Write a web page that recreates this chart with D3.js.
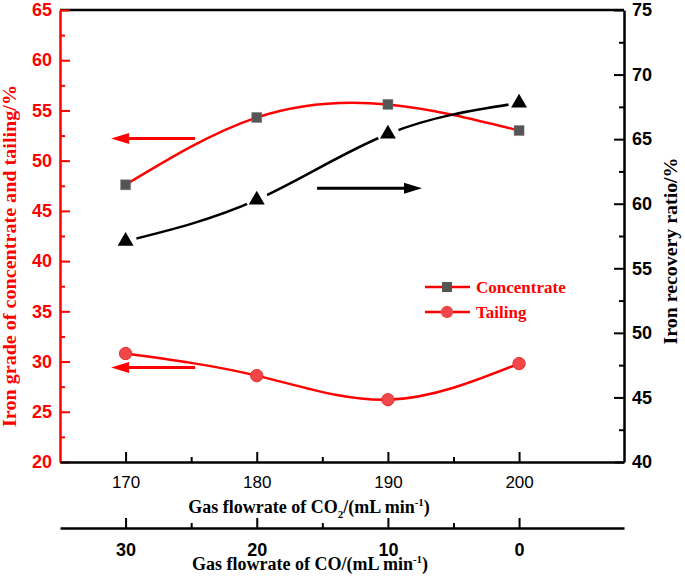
<!DOCTYPE html>
<meta charset='utf-8'>
<head>
    <title>Iron grade and recovery</title>
    <script src='https://cdn.jsdelivr.net/npm/d3@7/dist/d3.min.js'></script>
</head>

<style>
    body { margin: 0; background: #fff; }
    svg { font-family: 'Liberation Serif', 'Times New Roman', serif; }
    .axis path, .axis line { stroke-width: 2px; }
    .axis .domain { stroke-width: 2.5px; }
</style>

<svg></svg>

<script>

    // data
    var co2Flow = [170, 180, 190, 200];
    var coFlow = [30, 20, 10, 0];
    var concentrate = [47.6, 54.3, 55.6, 53.0];
    var tailing = [30.8, 28.6, 26.2, 29.8];
    var recovery = [57.1, 60.3, 65.4, 67.8];

    var leftTicks = [20, 25, 30, 35, 40, 45, 50, 55, 60, 65];
    var rightTicks = [40, 45, 50, 55, 60, 65, 70, 75];

    var vWidth = 685;
    var vHeight = 576;
    var svg = d3.select('svg').attr('width', vWidth).attr('height', vHeight);

    // scales
    var x = d3.scaleLinear().domain([165, 208]).range([60, 624]);
    var yL = d3.scaleLinear().domain([20, 65]).range([462, 10]);
    var yR = d3.scaleLinear().domain([40, 75]).range([462, 10]);

    var red = '#ff0000';

    // top border
    svg.append('line').attr('x1', 60).attr('x2', 624).attr('y1', 10).attr('y2', 10)
        .attr('stroke', '#000').attr('stroke-width', 2.5);

    // left axis (red), ticks inward
    var gL = svg.append('g').attr('class', 'axis').attr('transform', 'translate(60,0)');
    gL.call(d3.axisLeft(yL).tickValues(leftTicks).tickSize(-10).tickSizeOuter(0).tickPadding(8));
    gL.append('g').call(d3.axisLeft(yL).tickValues(d3.range(22.5, 65, 5)).tickSize(-5).tickSizeOuter(0).tickFormat(''))
        .select('.domain').remove();
    gL.selectAll('path, line').attr('stroke', red);
    gL.selectAll('text').attr('fill', red).style('font-size', '18px').style('font-weight', 'bold');

    // right axis (black), ticks inward
    var gR = svg.append('g').attr('class', 'axis').attr('transform', 'translate(624,0)');
    gR.call(d3.axisRight(yR).tickValues(rightTicks).tickSize(-10).tickSizeOuter(0).tickPadding(8));
    gR.append('g').call(d3.axisRight(yR).tickValues(d3.range(42.5, 75, 5)).tickSize(-5).tickSizeOuter(0).tickFormat(''))
        .select('.domain').remove();
    gR.selectAll('path, line').attr('stroke', '#000');
    gR.selectAll('text').attr('fill', '#000').style('font-size', '18px').style('font-weight', 'bold');

    // bottom axis CO2
    var gB = svg.append('g').attr('class', 'axis').attr('transform', 'translate(0,462)');
    gB.call(d3.axisBottom(x).tickValues(co2Flow).tickSize(-10).tickSizeOuter(0).tickPadding(14));
    gB.append('g').call(d3.axisBottom(x).tickValues([175, 185, 195]).tickSize(-5).tickSizeOuter(0).tickFormat(''))
        .select('.domain').remove();
    gB.selectAll('path, line').attr('stroke', '#000');
    gB.selectAll('text').attr('fill', '#000').style('font-size', '17px');

    // second bottom axis CO
    var gC = svg.append('g').attr('class', 'axis').attr('transform', 'translate(0,528)');
    gC.call(d3.axisBottom(x).tickValues(co2Flow).tickSize(-10).tickSizeOuter(0).tickPadding(15)
        .tickFormat(function (d, i) { return coFlow[i]; }));
    gC.append('g').call(d3.axisBottom(x).tickValues([175, 185, 195]).tickSize(-5).tickSizeOuter(0).tickFormat(''))
        .select('.domain').remove();
    gC.selectAll('path, line').attr('stroke', '#000');
    gC.selectAll('text').attr('fill', '#000').style('font-size', '18px').style('font-weight', 'bold');

    // axis titles
    var t1 = svg.append('text').attr('x', 309).attr('y', 513).attr('text-anchor', 'middle')
        .style('font-size', '18px').style('font-weight', 'bold');
    t1.append('tspan').text('Gas flowrate of CO');
    t1.append('tspan').attr('dy', 5).style('font-size', '11px').text('2');
    t1.append('tspan').attr('dy', -5).text('/(mL min');
    t1.append('tspan').attr('dy', -7).style('font-size', '11px').text('-1');
    t1.append('tspan').attr('dy', 7).text(')');

    var t2 = svg.append('text').attr('x', 310).attr('y', 570).attr('text-anchor', 'middle')
        .style('font-size', '18px').style('font-weight', 'bold');
    t2.append('tspan').text('Gas flowrate of CO/(mL min');
    t2.append('tspan').attr('dy', -7).style('font-size', '11px').text('-1');
    t2.append('tspan').attr('dy', 7).text(')');

    svg.append('text').attr('transform', 'translate(16,256) rotate(-90)').attr('text-anchor', 'middle')
        .attr('fill', red).style('font-size', '19px').style('font-weight', 'bold')
        .attr('textLength', 342).attr('lengthAdjust', 'spacingAndGlyphs')
        .text('Iron grade of concentrate and tailing/%');

    svg.append('text').attr('transform', 'translate(677,251) rotate(-90)').attr('text-anchor', 'middle')
        .attr('fill', '#000').style('font-size', '19px').style('font-weight', 'bold')
        .attr('textLength', 187).attr('lengthAdjust', 'spacingAndGlyphs')
        .text('Iron recovery ratio/%');

    // lines
    function lineFor(scale) {
        return d3.line().curve(d3.curveNatural)
            .x(function (d) { return x(d[0]); })
            .y(function (d) { return scale(d[1]); });
    }
    var concPts = d3.zip(co2Flow, concentrate);
    var tailPts = d3.zip(co2Flow, tailing);
    var recPts = d3.zip(co2Flow, recovery);

    svg.append('path').datum(concPts).attr('d', lineFor(yL))
        .attr('fill', 'none').attr('stroke', red).attr('stroke-width', 2.5);
    svg.append('path').datum(tailPts).attr('d', lineFor(yL))
        .attr('fill', 'none').attr('stroke', red).attr('stroke-width', 2.5);
    svg.append('path').datum(recPts).attr('d', lineFor(yR))
        .attr('fill', 'none').attr('stroke', '#000').attr('stroke-width', 2.5);

    // markers
    var square = d3.symbol().type(d3.symbolSquare).size(100);
    var circle = d3.symbol().type(d3.symbolCircle).size(120);
    var tri = d3.symbol().type(d3.symbolTriangle).size(110);

    svg.selectAll('.halo').data(recPts).enter().append('circle')
        .attr('cx', function (d) { return x(d[0]); })
        .attr('cy', function (d) { return yR(d[1]) - 1; })
        .attr('r', 11).attr('fill', '#fff');
    svg.selectAll('.tri').data(recPts).enter().append('path')
        .attr('d', tri).attr('fill', '#000')
        .attr('transform', function (d) { return 'translate(' + x(d[0]) + ',' + yR(d[1]) + ')'; });

    svg.selectAll('.sq').data(concPts).enter().append('path')
        .attr('d', square).attr('fill', '#555').attr('stroke', '#777').attr('stroke-width', 0.5)
        .attr('transform', function (d) { return 'translate(' + x(d[0]) + ',' + yL(d[1]) + ')'; });
    svg.selectAll('.ci').data(tailPts).enter().append('path')
        .attr('d', circle).attr('fill', '#f04848').attr('stroke', '#e83030').attr('stroke-width', 1)
        .attr('transform', function (d) { return 'translate(' + x(d[0]) + ',' + yL(d[1]) + ')'; });

    // direction arrows: [fromX, toX, value, scale, colour]
    var arrows = [
        [175.3, 168.9, 52.2, yL, red],
        [184.6, 192.6, 61.2, yR, '#000'],
        [175.3, 168.9, 29.4, yL, red]
    ];
    arrows.forEach(function (a) {
        var x0 = x(a[0]), x1 = x(a[1]), yy = a[3](a[2]);
        var dir = x1 > x0 ? 1 : -1;
        var headLen = 18;
        svg.append('line').attr('x1', x0).attr('x2', x1 - dir * headLen + dir * 2)
            .attr('y1', yy).attr('y2', yy).attr('stroke', a[4]).attr('stroke-width', 3);
        svg.append('path')
            .attr('d', 'M' + x1 + ',' + yy + 'L' + (x1 - dir * headLen) + ',' + (yy - 5.5) +
                'L' + (x1 - dir * headLen) + ',' + (yy + 5.5) + 'Z')
            .attr('fill', a[4]);
    });

    // legend
    var legend = svg.append('g').attr('transform', 'translate(425,287)');
    legend.append('line').attr('x1', 0).attr('x2', 45).attr('stroke', red).attr('stroke-width', 2.5);
    legend.append('path').attr('d', square).attr('fill', '#555').attr('transform', 'translate(22,0)');
    legend.append('text').attr('x', 51).attr('y', 6).attr('fill', red)
        .style('font-size', '17px').style('font-weight', 'bold').text('Concentrate');
    legend.append('line').attr('x1', 0).attr('x2', 45).attr('y1', 25).attr('y2', 25)
        .attr('stroke', red).attr('stroke-width', 2.5);
    legend.append('path').attr('d', circle).attr('fill', '#f04848').attr('transform', 'translate(22,25)');
    legend.append('text').attr('x', 51).attr('y', 31).attr('fill', red)
        .style('font-size', '17px').style('font-weight', 'bold').text('Tailing');
</script>
